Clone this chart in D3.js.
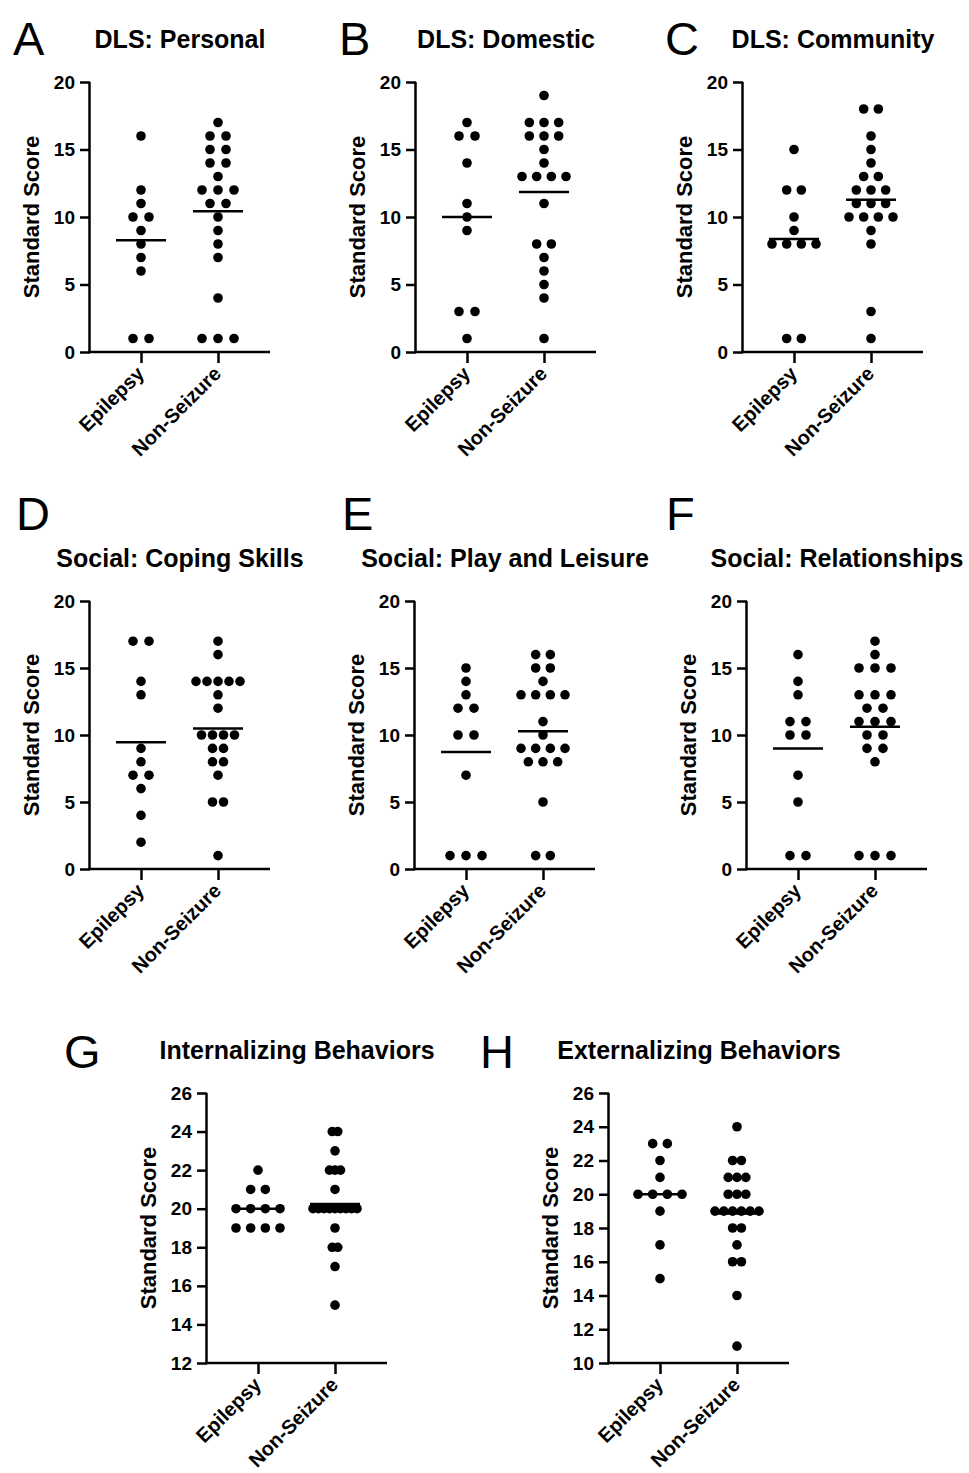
<!DOCTYPE html>
<html>
<head>
<meta charset="utf-8">
<script src="https://cdn.jsdelivr.net/npm/d3@7"></script>
<style>
  body { margin: 0; background: #fff; }
  svg text { font-family: "Liberation Sans", Arial, Helvetica, sans-serif; fill: #000; }
</style>
</head>
<body>
<div id="viz"></div>
<script>
// groups on the x axis
const groups = ["Epilepsy", "Non-Seizure"];

const panelLetters = ["A", "B", "C", "D", "E", "F", "G", "H"];
const panelTitles = [
  "DLS: Personal", "DLS: Domestic", "DLS: Community",
  "Social: Coping Skills", "Social: Play and Leisure", "Social: Relationships",
  "Internalizing Behaviors", "Externalizing Behaviors"
];

// y tick labels
const ticksDLS = [0, 5, 10, 15, 20];
const ticksInternal = [12, 14, 16, 18, 20, 22, 24, 26];
const ticksExternal = [10, 12, 14, 16, 18, 20, 22, 24, 26];

// standard scores
const personalEpilepsy = [16, 12, 11, 10, 10, 9, 8, 7, 6, 1, 1];
const personalNonSeizure = [17, 16, 16, 15, 15, 14, 14, 13, 12, 12, 12, 11, 11, 10, 9, 8, 7, 4, 1, 1, 1];
const domesticEpilepsy = [17, 16, 16, 14, 11, 10, 9, 3, 3, 1];
const domesticNonSeizure = [19, 17, 17, 17, 16, 16, 16, 15, 14, 13, 13, 13, 13, 11, 8, 8, 7, 6, 5, 4, 1];
const communityEpilepsy = [15, 12, 12, 10, 9, 8, 8, 8, 8, 1, 1];
const communityNonSeizure = [18, 18, 16, 15, 14, 13, 13, 12, 12, 12, 11, 11, 11, 10, 10, 10, 10, 9, 8, 3, 1];
const copingEpilepsy = [17, 17, 14, 13, 9, 8, 7, 7, 6, 4, 2];
const copingNonSeizure = [17, 16, 14, 14, 14, 14, 14, 13, 12, 10, 10, 10, 10, 9, 9, 8, 8, 7, 5, 5, 1];
const playEpilepsy = [15, 14, 13, 12, 12, 10, 10, 7, 1, 1, 1];
const playNonSeizure = [16, 16, 15, 15, 14, 13, 13, 13, 13, 11, 10, 9, 9, 9, 9, 8, 8, 8, 5, 1, 1];
const relationEpilepsy = [16, 14, 13, 11, 11, 10, 10, 7, 5, 1, 1];
const relationNonSeizure = [17, 16, 15, 15, 15, 13, 13, 13, 12, 12, 11, 11, 11, 10, 10, 9, 9, 8, 1, 1, 1];
const internalEpilepsy = [22, 21, 21, 20, 20, 20, 20, 19, 19, 19, 19];
const internalNonSeizure = [24, 24, 23, 22, 22, 22, 21, 20, 20, 20, 20, 20, 20, 20, 20, 20, 19, 18, 18, 17, 15];
const externalEpilepsy = [23, 23, 22, 21, 20, 20, 20, 20, 19, 17, 15];
const externalNonSeizure = [24, 22, 22, 21, 21, 21, 20, 20, 20, 19, 19, 19, 19, 19, 19, 18, 18, 17, 16, 16, 14, 11];

const panelData = [
  [personalEpilepsy, personalNonSeizure],
  [domesticEpilepsy, domesticNonSeizure],
  [communityEpilepsy, communityNonSeizure],
  [copingEpilepsy, copingNonSeizure],
  [playEpilepsy, playNonSeizure],
  [relationEpilepsy, relationNonSeizure],
  [internalEpilepsy, internalNonSeizure],
  [externalEpilepsy, externalNonSeizure]
];
const panelTicks = [ticksDLS, ticksDLS, ticksDLS, ticksDLS, ticksDLS, ticksDLS, ticksInternal, ticksExternal];

// layout: y axis x position, plot top/bottom, letter position
const layout = [
  {ax: 90,  top: 82,   bottom: 352,  lx: 13,  ly: 55},
  {ax: 416, top: 82,   bottom: 352,  lx: 339, ly: 55},
  {ax: 743, top: 82,   bottom: 352,  lx: 665, ly: 55},
  {ax: 90,  top: 601,  bottom: 869,  lx: 16,  ly: 530},
  {ax: 415, top: 601,  bottom: 869,  lx: 342, ly: 530},
  {ax: 747, top: 601,  bottom: 869,  lx: 666, ly: 530},
  {ax: 207, top: 1093, bottom: 1363, lx: 64,  ly: 1068},
  {ax: 609, top: 1093, bottom: 1363, lx: 480, ly: 1068}
];

const svg = d3.select("#viz")
  .append("svg")
  .attr("width", 969)
  .attr("height", 1473);

function scatterPanel(i) {
  const L = layout[i];
  const ticks = panelTicks[i];
  const g = svg.append("g");

  const y = d3.scaleLinear()
    .domain(d3.extent(ticks))
    .range([L.bottom, L.top]);

  const x = d3.scalePoint()
    .domain(groups)
    .range([L.ax + 51, L.ax + 128]);

  // panel letter + title
  g.append("text")
    .attr("x", L.lx)
    .attr("y", L.ly)
    .attr("font-size", 47)
    .text(panelLetters[i]);

  g.append("text")
    .attr("x", L.ax + 90)
    .attr("y", L.top - 34)
    .attr("text-anchor", "middle")
    .attr("font-size", 25)
    .attr("font-weight", "bold")
    .text(panelTitles[i]);

  // y axis
  const yAxis = d3.axisLeft(y).tickValues(ticks).tickSize(10).tickPadding(5);
  const gy = g.append("g")
    .attr("transform", `translate(${L.ax},0)`)
    .call(yAxis);
  gy.select(".domain").attr("d", `M-0.5,${L.top}V${L.bottom}`);
  gy.attr("font-size", 19).attr("font-family", null);

  // x axis
  const xAxis = d3.axisBottom(x).tickSize(11).tickFormat("");
  const gx = g.append("g")
    .attr("transform", `translate(0,${L.bottom})`)
    .call(xAxis);
  gx.select(".domain").attr("d", `M${L.ax - 1.5},0H${L.ax + 180}`);
  gx.attr("font-size", 20).attr("font-family", null);

  g.selectAll(".domain, .tick line")
    .attr("stroke", "#000")
    .attr("stroke-width", 2.5);
  gy.selectAll(".tick text")
    .attr("font-weight", "bold");

  gx.selectAll(".tick")
    .append("text")
    .attr("transform", "translate(-1,18) rotate(-45)")
    .attr("text-anchor", "end")
    .attr("dy", "0.35em")
    .attr("font-weight", "bold")
    .attr("fill", "#000")
    .text(d => d);

  // y axis title
  g.append("text")
    .attr("transform", `translate(${L.ax - 59},${(L.top + L.bottom) / 2}) rotate(-90)`)
    .attr("text-anchor", "middle")
    .attr("dy", "0.36em")
    .attr("font-size", 22)
    .attr("font-weight", "bold")
    .text("Standard Score");

  // dots, spread sideways per value row
  panelData[i].forEach((vals, gi) => {
    const rows = d3.rollup(vals, v => v.length, d => d);
    const maxN = d3.max(rows.values());
    const step = maxN > 1 ? Math.min(16, 44 / (maxN - 1)) : 16;
    const pts = [];
    rows.forEach((n, v) => {
      for (let k = 0; k < n; k++) pts.push({v: v, off: (k - (n - 1) / 2) * step});
    });

    g.append("g")
      .selectAll("circle")
      .data(pts)
      .enter()
      .append("circle")
      .attr("cx", d => x(groups[gi]) + d.off)
      .attr("cy", d => y(d.v))
      .attr("r", 4.8)
      .attr("fill", "#000");

    const m = d3.mean(vals);
    g.append("line")
      .attr("x1", x(groups[gi]) - 25)
      .attr("x2", x(groups[gi]) + 25)
      .attr("y1", y(m))
      .attr("y2", y(m))
      .attr("stroke", "#000")
      .attr("stroke-width", 2.5);
  });
}

for (let i = 0; i < 8; i++) scatterPanel(i);
</script>
</body>
</html>
